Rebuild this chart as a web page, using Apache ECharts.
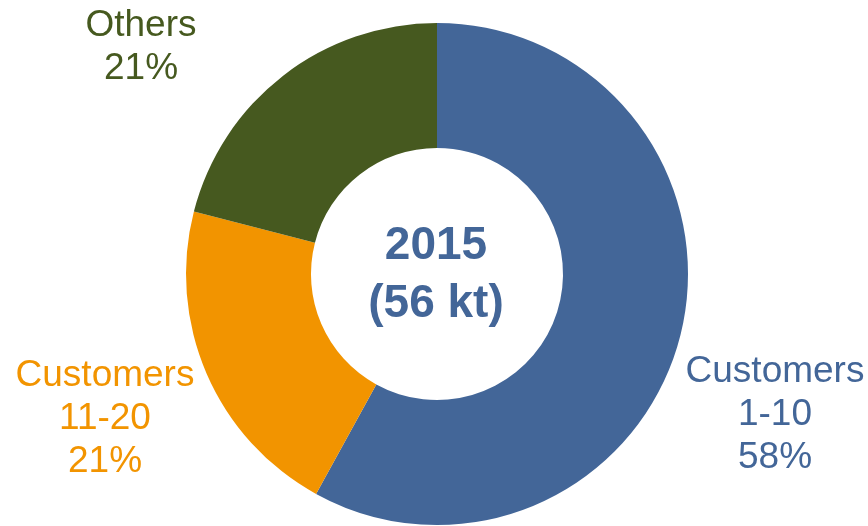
<!DOCTYPE html>
<html>
<head>
<meta charset="utf-8">
<style>
  html, body { margin: 0; padding: 0; background: #ffffff; }
  #chart { width: 868px; height: 526px; }
</style>
<script src="https://cdn.jsdelivr.net/npm/echarts@6/dist/echarts.min.js"></script>
</head>
<body>
<div id="chart"></div>
<script>
// Data
var categories = ['Customers\n1-10', 'Customers\n11-20', 'Others'];
var shares = [58, 21, 21];
var centerLines = ['2015', '(56 kt)'];

// Styling (kept apart from data)
var colors = ['#436698', '#F29400', '#46591F'];
var labelPos = [[775, 415], [105, 419], [141, 47]];
var FONT = '"Liberation Sans", Arial, sans-serif';

var chart = echarts.init(document.getElementById('chart'), null, { renderer: 'canvas' });

var option = {
  animation: false,
  backgroundColor: '#ffffff',
  graphic: [{
    type: 'text',
    x: 436,
    y: 275,
    style: {
      text: centerLines.join('\n'),
      fill: '#436698',
      font: 'bold 46px ' + FONT,
      lineHeight: 58,
      textAlign: 'center',
      textVerticalAlign: 'middle'
    }
  }],
  series: [{
    type: 'pie',
    center: [437, 274],
    radius: [126, 251],
    startAngle: 90,
    clockwise: true,
    silent: true,
    avoidLabelOverlap: false,
    labelLine: { show: false },
    label: {
      show: true,
      position: 'outside',
      formatter: function (p) { return p.name + '\n' + p.value + '%'; },
      fontFamily: FONT,
      fontSize: 37,
      lineHeight: 43,
      align: 'center'
    },
    labelLayout: function (params) {
      var pos = labelPos[params.dataIndex];
      return { x: pos[0], y: pos[1], align: 'center', verticalAlign: 'middle', hideOverlap: false };
    },
    itemStyle: { borderWidth: 0 },
    data: categories.map(function (c, i) {
      return {
        name: c,
        value: shares[i],
        itemStyle: { color: colors[i] },
        label: { color: colors[i] }
      };
    })
  }]
};

chart.setOption(option);
</script>
</body>
</html>
